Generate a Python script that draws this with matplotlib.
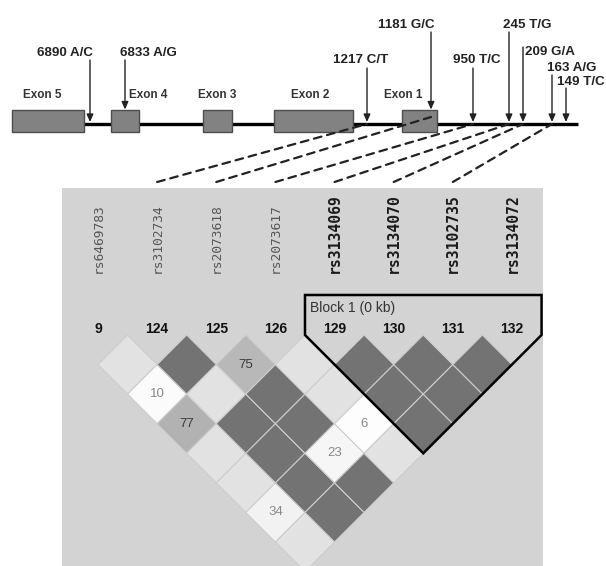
import matplotlib
matplotlib.use("Agg")
import matplotlib.pyplot as plt
from matplotlib.patches import Rectangle, Polygon, ConnectionPatch
import numpy as np

plt.rcParams["font.family"] = ["Liberation Sans", "DejaVu Sans"]

# gene schematic (diagram units, 3' end on the left)
exon_names = ["Exon 5", "Exon 4", "Exon 3", "Exon 2", "Exon 1"]
exon_start = [12, 111, 203, 274, 402]
exon_end = [84, 139, 232, 353, 437]
gene_span = [12, 578]

snp_labels = ["6890 A/C", "6833 A/G", "1217 C/T", "1181 G/C", "950 T/C",
              "245 T/G", "209 G/A", "163 A/G", "149 T/C"]
snp_pos = [90, 125, 367, 431, 473, 509, 523, 552, 566]

# LD plot markers
ld_ids = ["rs6469783", "rs3102734", "rs2073618", "rs2073617",
          "rs3134069", "rs3134070", "rs3102735", "rs3134072"]
ld_numbers = [9, 124, 125, 126, 129, 130, 131, 132]
ld_to_gene = [None, "1217 C/T", "1181 G/C", "950 T/C",
              "245 T/G", "209 G/A", "163 A/G", None]
block_first, block_last = 4, 7
block_label = "Block 1 (0 kb)"

# pairwise D' x100 (upper triangle)
dprime = np.array([
    [0, 100, 10, 77, 100, 100, 34, 100],
    [0, 0, 100, 100, 100, 100, 100, 100],
    [0, 0, 0, 75, 100, 100, 23, 100],
    [0, 0, 0, 0, 100, 100, 6, 100],
    [0, 0, 0, 0, 0, 100, 100, 100],
    [0, 0, 0, 0, 0, 0, 100, 100],
    [0, 0, 0, 0, 0, 0, 0, 100],
    [0, 0, 0, 0, 0, 0, 0, 0],
])
# LOD >= 2
lod_strong = np.array([
    [0, 0, 0, 1, 0, 0, 0, 0],
    [0, 0, 1, 0, 1, 1, 1, 1],
    [0, 0, 0, 1, 1, 1, 0, 1],
    [0, 0, 0, 0, 0, 0, 0, 0],
    [0, 0, 0, 0, 0, 1, 1, 1],
    [0, 0, 0, 0, 0, 0, 1, 1],
    [0, 0, 0, 0, 0, 0, 0, 1],
    [0, 0, 0, 0, 0, 0, 0, 0],
])

W, H = 606, 566
fig = plt.figure(figsize=(W / 100, H / 100), dpi=100)
fig.patch.set_facecolor("white")

# ---------------- gene panel ----------------
PANEL_TOP = 188
gx = fig.add_axes([0, 1 - PANEL_TOP / H, 1, PANEL_TOP / H])
gx.set_xlim(0, W)
gx.set_ylim(PANEL_TOP, 0)
gx.set_axis_off()

LINE_Y = 124
BOX_Y0, BOX_H = 110, 22
gx.plot(gene_span, [LINE_Y, LINE_Y], color="black", lw=2.4, zorder=2,
        solid_capstyle="butt")
exon_label_dx = [-6, 23, 0, -3, -16]
for name, s, e, dx in zip(exon_names, exon_start, exon_end, exon_label_dx):
    gx.add_patch(Rectangle((s, BOX_Y0), e - s, BOX_H, facecolor="#828282",
                           edgecolor="#4d4d4d", lw=1, zorder=3))
    gx.text((s + e) / 2 + dx, 95, name, ha="center", va="center",
            fontsize=8.5, fontweight="bold", color="#333333")

arrow_top = [60, 60, 68, 32, 68, 32, 47, 75, 88]
# label offset from arrow, label y, alignment
label_layout = [(3, 53, "right"), (-5, 53, "left"), (-6, 60, "center"),
                (4, 25, "right"), (4, 60, "center"), (-6, 25, "left"),
                (2, 52, "left"), (-5, 68, "left"), (39, 82, "right")]
tip_y = {}
for lab, x, top, (dx, ly, ha) in zip(snp_labels, snp_pos, arrow_top, label_layout):
    in_exon = any(s <= x <= e for s, e in zip(exon_start, exon_end))
    tip = BOX_Y0 - 0.5 if in_exon else LINE_Y - 2
    tip_y[lab] = BOX_Y0 + 7 if in_exon else LINE_Y
    gx.annotate("", xy=(x, tip), xytext=(x, top),
                arrowprops=dict(arrowstyle="-|>,head_length=0.45,head_width=0.2",
                                lw=1.0, color="#222222", shrinkA=0, shrinkB=0),
                zorder=5)
    gx.text(x + dx, ly, lab, ha=ha, va="center", fontsize=9.6,
            fontweight="bold", color="#222222")

# ---------------- LD panel ----------------
S = 59.14          # pixels per marker
X0, Y0 = 98, 335   # first marker / top of diamonds (pixels)
L, R = 62, 543
lx = fig.add_axes([L / W, 0, (R - L) / W, (H - PANEL_TOP) / H])
lx.set_xlim((L - X0) / S, (R - X0) / S)
lx.set_ylim(-(H - Y0) / S, (Y0 - PANEL_TOP) / S)
lx.set_facecolor("#d3d3d3")
lx.set_xticks([]); lx.set_yticks([])
for sp in lx.spines.values():
    sp.set_visible(False)

n = len(ld_ids)
for i in range(n):
    for j in range(i + 1, n):
        d = dprime[i, j]
        if lod_strong[i, j]:
            g = 0.45 if d == 100 else min(0.95, 0.45 + 1.08 * (1 - d / 100))
        else:
            g = 0.885 if d == 100 else 1 - 0.15 * d / 100
        cx, cy = (i + j) / 2, -(j - i) / 2
        lx.add_patch(Polygon([(cx - 0.5, cy), (cx, cy + 0.5), (cx + 0.5, cy),
                              (cx, cy - 0.5)], closed=True,
                             facecolor=str(g), edgecolor="#cdcdcd", lw=0.8))
        if d < 100:
            lx.text(cx, cy, str(d), ha="center", va="center", fontsize=9.5,
                    color="#3a3a3a" if lod_strong[i, j] else "#8a8a8a")

for i, (rs, num) in enumerate(zip(ld_ids, ld_numbers)):
    in_block = block_first <= i <= block_last
    lx.text(i, 0.10, str(num), ha="center", va="center", fontsize=10,
            fontweight="bold", color="#111111")
    lx.text(i, 1.05, rs, rotation=90, ha="center", va="bottom",
            fontsize=10.6 if in_block else 9.3,
            family="DejaVu Sans Mono",
            fontweight="bold" if in_block else "normal",
            color="#1a1a1a" if in_block else "#555555")

a, b = block_first - 0.5, block_last + 0.5
btop = (Y0 - 295) / S
lx.add_patch(Polygon([(a, btop), (a, 0), ((a + b) / 2, -(b - a) / 2), (b, 0),
                      (b, btop)], closed=True, fill=False, edgecolor="black",
                     lw=1.8, joinstyle="miter", clip_on=False))
lx.text(a + 0.085, (Y0 - 308) / S, block_label, ha="left", va="center",
        fontsize=10, color="#333333")

# dashed connectors LD marker -> gene position
dash_y = (Y0 - 182) / S
for i, g in enumerate(ld_to_gene):
    if g is None:
        continue
    k = snp_labels.index(g)
    con = ConnectionPatch(xyA=(i, dash_y), coordsA=lx.transData,
                          xyB=(snp_pos[k], tip_y[g]), coordsB=gx.transData,
                          color="#222222", lw=1.6, linestyle=(0, (3.5, 2.6)))
    fig.add_artist(con)

fig.savefig("out.png", dpi=100, facecolor="white")
